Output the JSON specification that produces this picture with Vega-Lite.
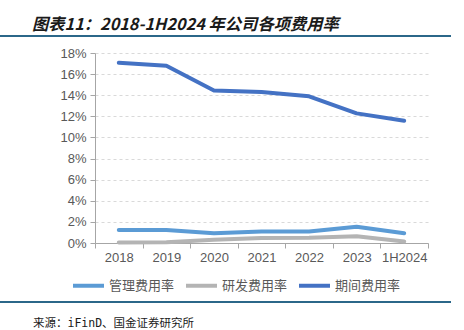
{
  "$schema": "https://vega.github.io/schema/vega-lite/v6.json",
  "padding": {"left": 0, "top": 16, "right": 0, "bottom": 0},
  "background": "white",
  "resolve": {"legend": {"color": "independent"}},
  "title": {
    "text": "图表11：2018-1H2024 年公司各项费用率",
    "anchor": "start",
    "frame": "bounds",
    "dx": 32,
    "offset": 2,
    "font": "Noto Sans CJK SC",
    "fontSize": 16.3,
    "fontWeight": "bold",
    "fontStyle": "italic",
    "color": "#1a1a1a"
  },
  "spacing": 7,
  "config": {
    "view": {"stroke": null},
    "axis": {"labelFont": "Liberation Sans", "labelFontSize": 13, "labelColor": "#595959", "domainColor": "#A6A6A6", "tickColor": "#A6A6A6"}
  },
  "vconcat": [
    {
      "spacing": 0,
      "vconcat": [
        {
          "width": 451,
          "height": 2,
          "view": {"fill": "#2B6789", "stroke": null},
          "data": {"values": []},
          "mark": {"type": "point", "opacity": 0},
          "encoding": {}
        },
        {
          "width": 1,
          "height": 3,
          "data": {"values": []},
          "mark": {"type": "point", "opacity": 0},
          "encoding": {}
        }
      ]
    },
    {
      "spacing": 0,
      "resolve": {"legend": {"color": "independent"}},
      "hconcat": [
        {
          "width": 1,
          "height": 1,
          "data": {"values": []},
          "mark": {"type": "point", "opacity": 0},
          "encoding": {}
        },
        {
          "width": 333,
          "height": 190,
          "data": {
            "values": [
              {"year": "2018", "series": "管理费用率", "value": 0.0124},
              {"year": "2019", "series": "管理费用率", "value": 0.0124},
              {"year": "2020", "series": "管理费用率", "value": 0.0092},
              {"year": "2021", "series": "管理费用率", "value": 0.0108},
              {"year": "2022", "series": "管理费用率", "value": 0.0110},
              {"year": "2023", "series": "管理费用率", "value": 0.0153},
              {"year": "1H2024", "series": "管理费用率", "value": 0.0092},
              {"year": "2018", "series": "研发费用率", "value": 0.0005},
              {"year": "2019", "series": "研发费用率", "value": 0.0008},
              {"year": "2020", "series": "研发费用率", "value": 0.0030},
              {"year": "2021", "series": "研发费用率", "value": 0.0048},
              {"year": "2022", "series": "研发费用率", "value": 0.0050},
              {"year": "2023", "series": "研发费用率", "value": 0.0065},
              {"year": "1H2024", "series": "研发费用率", "value": 0.0015},
              {"year": "2018", "series": "期间费用率", "value": 0.1707},
              {"year": "2019", "series": "期间费用率", "value": 0.1680},
              {"year": "2020", "series": "期间费用率", "value": 0.1445},
              {"year": "2021", "series": "期间费用率", "value": 0.1430},
              {"year": "2022", "series": "期间费用率", "value": 0.1390},
              {"year": "2023", "series": "期间费用率", "value": 0.1228},
              {"year": "1H2024", "series": "期间费用率", "value": 0.1158}
            ]
          },
          "mark": {"type": "line", "strokeWidth": 4, "strokeCap": "round", "strokeJoin": "round"},
          "encoding": {
            "x": {
              "field": "year", "type": "nominal",
              "sort": ["2018", "2019", "2020", "2021", "2022", "2023", "1H2024"],
              "scale": {"paddingInner": 0, "paddingOuter": 0},
              "axis": {"title": null, "labelAngle": 0, "tickBand": "extent", "tickSize": 5, "labelPadding": 3, "grid": false}
            },
            "y": {
              "field": "value", "type": "quantitative",
              "scale": {"domain": [0, 0.18], "nice": false},
              "axis": {"title": null, "format": ".0%", "values": [0, 0.02, 0.04, 0.06, 0.08, 0.1, 0.12, 0.14, 0.16, 0.18], "tickSize": 5, "labelPadding": 4, "grid": true, "gridColor": "#D9D9D9", "gridDash": [3, 3], "minExtent": 94}
            },
            "color": {
              "field": "series", "type": "nominal",
              "sort": ["管理费用率", "研发费用率", "期间费用率"],
              "scale": {"domain": ["管理费用率", "研发费用率", "期间费用率"], "range": ["#5B9BD5", "#B4B4B4", "#4472C4"]},
              "legend": {
                "title": null, "orient": "none", "direction": "horizontal",
                "legendX": -24, "legendY": 215,
                "symbolType": "stroke", "symbolSize": 961, "symbolStrokeWidth": 4,
                "labelFont": "Noto Sans CJK SC", "labelFontSize": 13, "labelColor": "#595959",
                "labelOffset": 3, "columnPadding": 3
              }
            }
          }
        }
      ]
    },
    {
      "width": 451,
      "height": 2,
      "view": {"fill": "#2B6789", "stroke": null},
      "data": {"values": []},
      "mark": {"type": "point", "opacity": 0},
      "encoding": {},
      "title": {
        "text": "来源：iFinD、国金证券研究所",
        "orient": "bottom",
        "anchor": "start",
        "frame": "group",
        "dx": 33,
        "offset": 15,
        "font": "DejaVu Sans Mono, Noto Sans CJK SC",
        "fontSize": 11.5,
        "fontWeight": "normal",
        "color": "#1a1a1a"
      }
    }
  ]
}
